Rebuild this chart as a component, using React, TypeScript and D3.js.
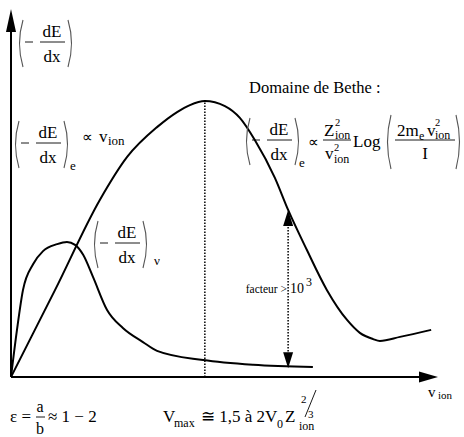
import { useEffect, useRef } from "react";
import * as d3 from "d3";

// electronic stopping power (Bethe curve), arbitrary units
const elecV = [0, 10.3, 20.8, 27.2, 34.2, 38.9, 41.9, 45.4, 50.1, 53.6, 57.1, 61.8, 64.9, 69.3, 74.0, 78.7, 81.7, 84.8, 86.4, 91.1, 98.4];
const elecS = [0, 23.6, 48.1, 59.8, 67.9, 72.0, 73.9, 75.0, 73.6, 70.4, 64.4, 54.1, 45.4, 34.5, 23.6, 15.5, 12.0, 10.3, 9.8, 10.9, 12.8];

// nuclear stopping power
const nucV = [0, 1.4, 2.8, 5.2, 7.5, 10.8, 13.1, 15.0, 16.9, 19.2, 22.5, 26.2, 30.9, 34.2, 45.0, 56.7, 70.7];
const nucS = [0, 12.8, 23.6, 30.7, 34.2, 36.1, 36.7, 35.9, 33.2, 27.2, 18.2, 13.3, 9.5, 7.1, 4.6, 3.3, 2.7];

const vmax = 45.4, vmaxS = 75.0;
const factorV = 64.9, factorTop = 45.4, factorBottom = 2.4;

const FONT = "Liberation Serif, Times New Roman, serif";

export default function App() {
  const ref = useRef<SVGSVGElement>(null);

  useEffect(() => {
    document.body.style.margin = "0";
    const width = 464, height = 437;

    const svg = d3.select(ref.current)
      .html("")
      .attr("width", width)
      .attr("height", height)
      .style("display", "block");

    svg.append("rect").attr("width", width).attr("height", height).attr("fill", "#fff");

    const x = d3.scaleLinear().domain([0, 100]).range([11, 438]);
    const y = d3.scaleLinear().domain([0, 100]).range([377, 9]);

    const curve = (vs: number[], ss: number[]) =>
      d3.line<number>()
        .x((_, i) => x(vs[i]))
        .y((_, i) => y(ss[i]))
        .curve(d3.curveMonotoneX)(vs);

    // axes
    svg.append("line").attr("x1", x(0)).attr("x2", x(0)).attr("y1", y(0)).attr("y2", y(100) + 20)
      .attr("stroke", "#000").attr("stroke-width", 2);
    svg.append("path")
      .attr("d", `M${x(0)},${y(100)} L${x(0) - 5},${y(100) + 23} L${x(0) + 5},${y(100) + 23} Z`)
      .attr("fill", "#000");
    svg.append("line").attr("x1", x(0)).attr("x2", x(100) - 16).attr("y1", y(0)).attr("y2", y(0))
      .attr("stroke", "#000").attr("stroke-width", 2);
    svg.append("path")
      .attr("d", `M${x(100)},${y(0)} L${x(100) - 19},${y(0) - 5.5} L${x(100) - 19},${y(0) + 5.5} Z`)
      .attr("fill", "#000");

    // curves
    svg.append("path").attr("d", curve(elecV, elecS)).attr("fill", "none")
      .attr("stroke", "#000").attr("stroke-width", 2);
    svg.append("path").attr("d", curve(nucV, nucS)).attr("fill", "none")
      .attr("stroke", "#000").attr("stroke-width", 2);

    // Vmax dotted line
    svg.append("line").attr("x1", x(vmax)).attr("x2", x(vmax)).attr("y1", y(0)).attr("y2", y(vmaxS))
      .attr("stroke", "#000").attr("stroke-width", 1.5).attr("stroke-dasharray", "1.5,1.5");

    // facteur double arrow
    const fx = x(factorV), ft = y(factorTop), fb = y(factorBottom);
    svg.append("line").attr("x1", fx).attr("x2", fx).attr("y1", ft + 14).attr("y2", fb - 14)
      .attr("stroke", "#000").attr("stroke-width", 1.5).attr("stroke-dasharray", "1.5,1.5");
    svg.append("path").attr("d", `M${fx},${ft} L${fx - 5},${ft + 16} L${fx + 5},${ft + 16} Z`).attr("fill", "#000");
    svg.append("path").attr("d", `M${fx},${fb} L${fx - 5},${fb - 16} L${fx + 5},${fb - 16} Z`).attr("fill", "#000");

    const txt = (tx: number, ty: number, s: string, size: number, anchor = "start") =>
      svg.append("text").attr("x", tx).attr("y", ty)
        .style("font-family", FONT).style("font-size", `${size}px`)
        .attr("text-anchor", anchor).attr("fill", "#000").text(s);

    const hbar = (x1: number, x2: number, yy: number) =>
      svg.append("line").attr("x1", x1).attr("x2", x2).attr("y1", yy).attr("y2", yy)
        .attr("stroke", "#000").attr("stroke-width", 0.9);

    const paren = (px: number, top: number, bot: number, left: boolean) => {
      const w = 6;
      const mid = (top + bot) / 2;
      const d = left
        ? `M${px + w},${top} Q${px - 1},${mid} ${px + w},${bot}`
        : `M${px},${top} Q${px + w + 1},${mid} ${px},${bot}`;
      svg.append("path").attr("d", d).attr("fill", "none").attr("stroke", "#555").attr("stroke-width", 1.1);
    };

    // (-dE/dx) block
    const dEdx = (x0: number, yb: number, sub?: string, subDx = 57, subDy = 27) => {
      paren(x0, yb - 22, yb + 25, true);
      paren(x0 + 51, yb - 22, yb + 25, false);
      hbar(x0 + 8, x0 + 16, yb);
      txt(x0 + 35, yb - 5, "dE", 17, "middle");
      hbar(x0 + 23, x0 + 48, yb);
      txt(x0 + 35, yb + 20, "dx", 17, "middle");
      if (sub) txt(x0 + subDx, yb + subDy, sub, 13);
    };

    dEdx(17, 42);

    dEdx(13, 143, "e");
    txt(82, 142, "\u221D", 15);
    txt(99, 142, "v", 17);
    txt(108, 145, "ion", 13);

    dEdx(92, 243, "\u03BD", 62, 22);

    // Bethe
    txt(249, 93, "Domaine de Bethe :", 16.5);
    dEdx(244, 140, "e", 55, 27);
    txt(308, 147, "\u221D", 15);
    hbar(323, 351, 140);
    txt(324, 136, "Z", 17);
    txt(335, 126, "2", 10.5);
    txt(335, 139, "ion", 12);
    txt(325, 159, "v", 17);
    txt(334, 151, "2", 10.5);
    txt(334, 163, "ion", 12);
    txt(353, 147, "Log", 17);
    paren(385, 115, 169, true);
    paren(456, 115, 169, false);
    txt(397, 136, "2m", 17);
    txt(419, 140, "e", 12);
    txt(427, 136, "v", 17);
    txt(435, 126, "2", 10.5);
    txt(435, 139, "ion", 12);
    hbar(395, 455, 140);
    txt(425, 159, "I", 17, "middle");

    // facteur
    txt(287, 293, "facteur >", 11.5, "end");
    txt(290, 293, "10", 14);
    txt(306, 286, "3", 12);

    // x label
    txt(428, 397, "v", 15);
    txt(438, 399, "ion", 11);

    // bottom formulas
    txt(10, 422, "\u03B5 =", 17);
    txt(40, 412, "a", 16, "middle");
    hbar(36, 45, 417);
    txt(40, 434, "b", 16, "middle");
    txt(48, 422, "\u2248 1 \u2212 2", 17);

    txt(163, 422, "V", 17);
    txt(174, 427, "max", 12);
    txt(201, 422, "\u2245 1,5 \u00E0 2V", 17);
    txt(277, 428, "0", 12);
    txt(285, 422, "Z", 17);
    txt(301, 403, "2", 11);
    svg.append("line").attr("x1", 316).attr("y1", 390).attr("x2", 305).attr("y2", 417)
      .attr("stroke", "#000").attr("stroke-width", 0.9);
    txt(308, 418, "3", 11);
    txt(299, 430, "ion", 12);
  }, []);

  return <svg ref={ref}></svg>;
}
